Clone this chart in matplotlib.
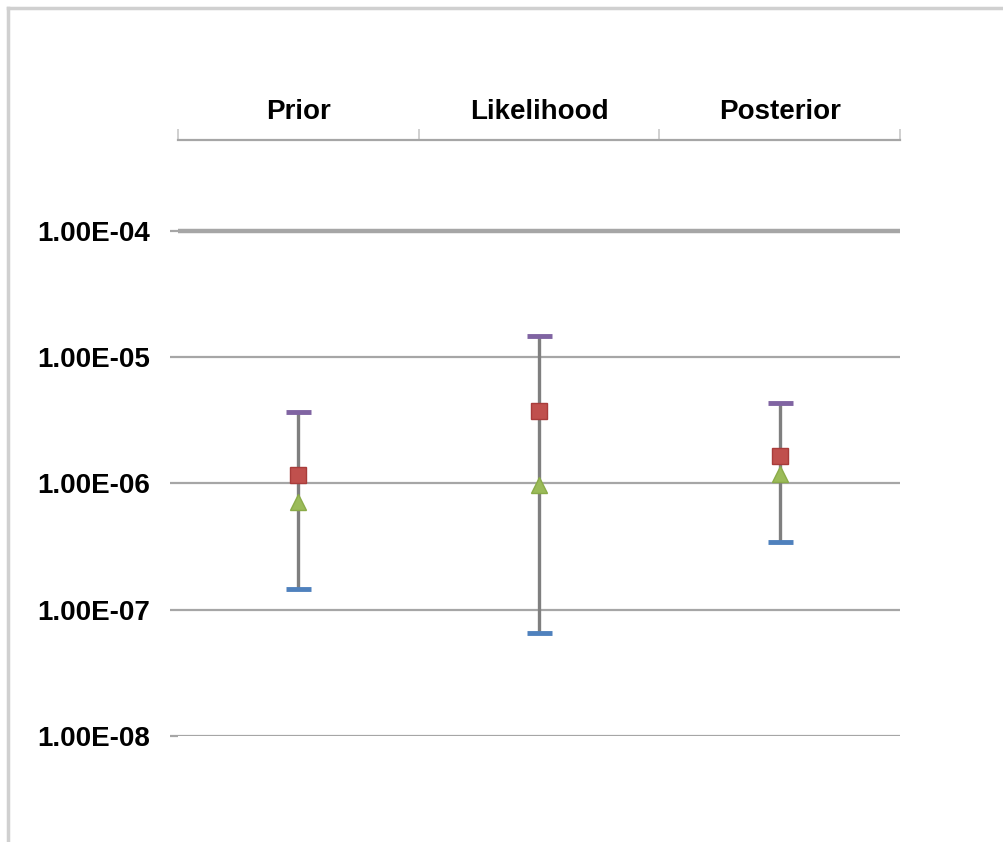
import numpy as np
import matplotlib.pyplot as plt
from matplotlib.lines import Line2D

plt.rcParams['font.family'] = ['Liberation Sans', 'DejaVu Sans']

categories = ['Prior', 'Likelihood', 'Posterior']
high = [3.7e-6, 1.46e-5, 4.3e-6]
low = [1.45e-7, 6.5e-8, 3.45e-7]
square = [1.16e-6, 3.75e-6, 1.64e-6]
triangle = [7.1e-7, 9.7e-7, 1.18e-6]
yticks = [1e-8, 1e-7, 1e-6, 1e-5, 1e-4]
ytick_labels = ['1.00E-08', '1.00E-07', '1.00E-06', '1.00E-05', '1.00E-04']

fig = plt.figure(figsize=(10.04, 8.42), dpi=100)
ax = fig.add_axes([0.1773, 0.1259, 0.7191, 0.7078])

x = np.arange(len(categories))

# gridlines (1e-4 a bit heavier)
for yv in yticks:
    lw = 3.2 if yv == 1e-4 else 1.6
    ax.axhline(yv, color='#a6a6a6', lw=lw, zorder=1)

# high-low lines
ax.vlines(x, low, high, color='#7f7f7f', lw=2.4, zorder=2)
ax.plot(x, high, ls='none', marker='_', ms=18, mew=3.5, color='#8064a2', zorder=3)
ax.plot(x, low, ls='none', marker='_', ms=18, mew=3.5, color='#4f81bd', zorder=3)
ax.plot(x, square, ls='none', marker='s', ms=12, mfc='#c0504d', mec='#a83c3a', mew=1, zorder=4)
ax.plot(x, triangle, ls='none', marker='^', ms=11, mfc='#9bbb59', mec='#8aab48', mew=1, zorder=4)

ax.set_yscale('log')
ax.set_ylim(1e-8, 10 ** -3.28)
ax.set_xlim(-0.5, 2.5)
ax.set_yticks(yticks)
ax.set_yticklabels(ytick_labels, fontsize=20, fontweight='bold')
ax.yaxis.set_minor_locator(plt.NullLocator())
ax.tick_params(axis='y', length=6, width=1.6, color='#a6a6a6', pad=14)

# category axis on top
ax.xaxis.tick_top()
ax.set_xticks(x)
ax.set_xticklabels(categories, fontsize=20, fontweight='bold')
ax.tick_params(axis='x', length=0, pad=11)
ax.set_xticks([-0.5, 0.5, 1.5, 2.5], minor=True)
ax.tick_params(axis='x', which='minor', length=8, width=1.2, color='#c8c8c8', top=True)

for s in ['left', 'right', 'bottom']:
    ax.spines[s].set_visible(False)
ax.spines['top'].set_color('#a6a6a6')
ax.spines['top'].set_linewidth(1.6)

# chart frame
fig.add_artist(Line2D([0.008, 1], [0.9905, 0.9905], color='#d0d0d0', lw=2.5, transform=fig.transFigure))
fig.add_artist(Line2D([0.008, 0.008], [0, 0.9905], color='#d0d0d0', lw=2.5, transform=fig.transFigure))

fig.savefig('out.png', dpi=100)
